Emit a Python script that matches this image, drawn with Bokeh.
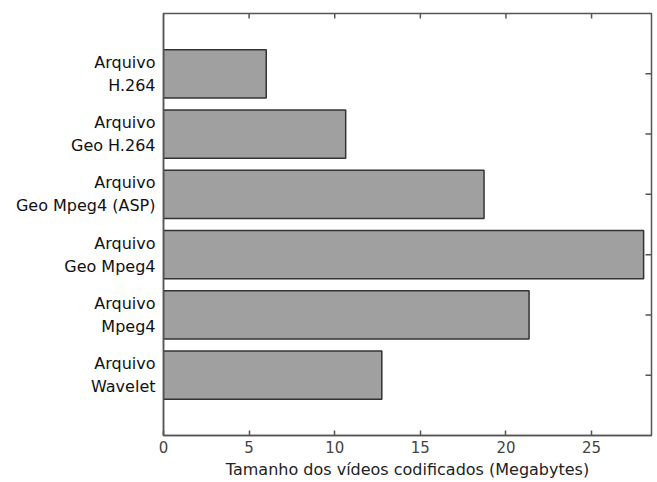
import math
from bokeh.plotting import figure
from bokeh.models import Range1d, FixedTicker
from bokeh.embed import file_html
from bokeh.resources import INLINE

categories = ["Arquivo\nH.264", "Arquivo\nGeo H.264", "Arquivo\nGeo Mpeg4 (ASP)",
              "Arquivo\nGeo Mpeg4", "Arquivo\nMpeg4", "Arquivo\nWavelet"]
sizes_mb = [6.0, 10.64, 18.72, 28.04, 21.35, 12.75]
positions = [6, 5, 4, 3, 2, 1]
x_ticks = [0, 5, 10, 15, 20, 25]
x_label = "Tamanho dos vídeos codificados (Megabytes)"
x_max = 28.5
y_max = 7

FONT = "DejaVu Sans"
AXIS_COLOR = "#555555"

p = figure(frame_width=488, frame_height=422, output_backend="svg", toolbar_location=None,
           x_range=Range1d(0, x_max), y_range=Range1d(0, y_max),
           min_border_left=163, min_border_top=13, min_border_right=4, min_border_bottom=10)
p.outline_line_color = AXIS_COLOR
p.outline_line_width = 1.5
p.grid.visible = False
p.background_fill_color = "white"
p.border_fill_color = "white"

p.hbar(y=positions, right=sizes_mb, left=0, height=0.8,
       fill_color="#a0a0a0", line_color="#333333", line_width=1.5)

# tick marks on the top and right sides of the frame
p.ray(x=x_ticks[1:], y=[y_max] * (len(x_ticks) - 1), length=5, length_units="screen",
      angle=-math.pi / 2, line_color=AXIS_COLOR, line_width=1.5)
p.ray(x=[x_max] * len(positions), y=positions, length=6, length_units="screen",
      angle=math.pi, line_color=AXIS_COLOR, line_width=1.5)

# bottom axis
xa = p.xaxis[0]
xa.ticker = FixedTicker(ticks=x_ticks)
xa.major_tick_in = 5
xa.major_tick_out = 0
xa.minor_tick_line_color = None
xa.axis_line_color = AXIS_COLOR
xa.axis_line_width = 1.5
xa.major_tick_line_color = AXIS_COLOR
xa.major_tick_line_width = 1.5
xa.major_label_text_font = FONT
xa.major_label_text_font_size = "15px"
xa.major_label_text_color = "#444444"
xa.major_label_standoff = 5
xa.axis_label = x_label
xa.axis_label_text_font = FONT
xa.axis_label_text_font_size = "16px"
xa.axis_label_text_font_style = "normal"
xa.axis_label_text_color = "#222222"
xa.axis_label_standoff = 4

# left axis
ya = p.yaxis[0]
ya.ticker = FixedTicker(ticks=positions)
ya.major_label_overrides = {pos: lab for pos, lab in zip(positions, categories)}
ya.major_tick_in = 0
ya.major_tick_out = 0
ya.minor_tick_line_color = None
ya.axis_line_color = AXIS_COLOR
ya.axis_line_width = 1.5
ya.major_label_text_font = FONT
ya.major_label_text_font_size = "16px"
ya.major_label_text_color = "#111111"
ya.major_label_standoff = 8

open("out.html", "w").write(file_html(p, INLINE))
